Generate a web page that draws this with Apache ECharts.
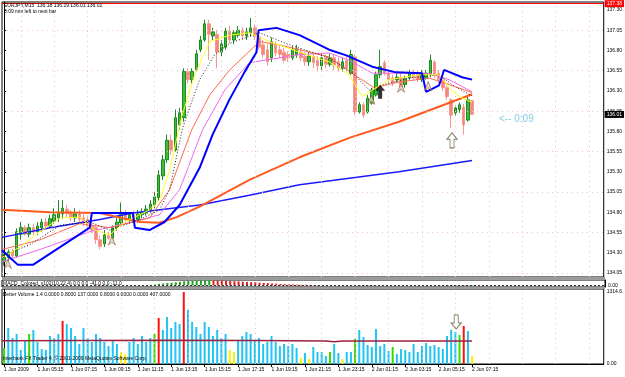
<!DOCTYPE html>
<html lang="en">
<head>
<meta charset="UTF-8">
<title>EURJPY,M15</title>
<style>
  html, body { margin: 0; padding: 0; background: #fff; }
  #chart { width: 625px; height: 377px; }
</style>
</head>
<body>
<div id="chart"></div>
<script src="https://cdn.jsdelivr.net/npm/echarts@6/dist/echarts.min.js"></script>
<script>
// bottom time labels, one every 8 bars (M15)
var timeLabels = ['1 Jun 2009', '1 Jun 05:15', '1 Jun 07:15', '1 Jun 09:15', '1 Jun 11:15', '1 Jun 13:15',
    '1 Jun 15:15', '1 Jun 17:15', '1 Jun 19:15', '1 Jun 21:15', '1 Jun 23:15', '2 Jun 01:15',
    '2 Jun 03:15', '2 Jun 05:15', '2 Jun 07:15'];

// price scale labels and dotted grid levels
var priceTicks = [134.05, 134.30, 134.55, 134.80, 135.05, 135.30, 135.55, 135.80, 136.05, 136.30, 136.55, 136.80, 137.05, 137.30];
var gridPrices = [134.05, 134.55, 135.05, 135.55, 136.05, 136.55, 137.05];
var gridBars = [4, 12, 20, 28, 36, 44, 52, 60, 68, 76, 84, 92, 100, 108, 116, 124, 132, 140];

// candles: [open, close, low, high]
var ohlc = [
    [134.19, 134.24, 134.14, 134.29], [134.24, 134.31, 134.19, 134.34], [134.31, 134.26, 134.22, 134.35],
    [134.26, 134.56, 134.24, 134.60], [134.53, 134.61, 134.46, 134.68], [134.61, 134.53, 134.51, 134.64],
    [134.53, 134.61, 134.49, 134.66], [134.61, 134.56, 134.52, 134.66], [134.56, 134.63, 134.52, 134.68],
    [134.61, 134.68, 134.56, 134.72], [134.68, 134.63, 134.60, 134.73], [134.63, 134.72, 134.61, 134.77],
    [134.69, 134.77, 134.66, 134.85], [134.73, 134.80, 134.68, 134.95], [134.78, 134.85, 134.72, 134.95],
    [134.84, 134.78, 134.73, 134.89], [134.79, 134.73, 134.69, 134.83], [134.73, 134.78, 134.68, 134.85],
    [134.78, 134.71, 134.67, 134.83], [134.73, 134.68, 134.63, 134.78], [134.71, 134.63, 134.58, 134.76],
    [134.63, 134.58, 134.54, 134.68], [134.61, 134.46, 134.41, 134.64], [134.46, 134.38, 134.34, 134.51],
    [134.41, 134.52, 134.37, 134.58], [134.52, 134.48, 134.46, 134.56], [134.48, 134.61, 134.45, 134.64],
    [134.61, 134.68, 134.57, 134.73], [134.67, 134.79, 134.63, 134.92], [134.78, 134.71, 134.66, 134.83],
    [134.71, 134.77, 134.67, 134.80], [134.77, 134.71, 134.67, 134.82], [134.71, 134.78, 134.67, 134.83],
    [134.77, 134.80, 134.73, 134.85], [134.79, 134.84, 134.76, 134.89], [134.83, 134.90, 134.79, 134.95],
    [134.89, 134.99, 134.85, 135.05], [134.98, 135.26, 134.95, 135.32], [135.25, 135.45, 135.20, 135.51],
    [135.45, 135.69, 135.41, 135.76], [135.69, 135.57, 135.51, 135.76], [135.57, 135.97, 135.55, 136.07],
    [135.88, 136.03, 135.82, 136.09], [135.97, 136.54, 135.92, 136.58], [136.54, 136.44, 136.39, 136.58],
    [136.44, 136.54, 136.39, 136.58], [136.56, 136.76, 136.54, 136.81], [136.81, 136.93, 136.78, 136.98],
    [136.93, 137.13, 136.91, 137.18], [137.13, 137.00, 136.68, 137.18], [136.98, 137.03, 136.93, 137.08],
    [137.00, 136.78, 136.58, 137.05], [136.78, 136.88, 136.73, 136.93], [136.84, 137.04, 136.81, 137.08],
    [137.04, 136.93, 136.89, 137.10], [136.93, 137.02, 136.88, 137.05], [136.99, 137.05, 136.96, 137.10],
    [137.05, 136.98, 136.93, 137.09], [136.98, 137.03, 136.93, 137.08], [137.02, 137.08, 136.97, 137.20],
    [137.08, 136.97, 136.93, 137.12], [136.97, 136.84, 136.81, 137.02], [136.87, 136.75, 136.71, 136.93],
    [136.81, 136.66, 136.61, 136.88], [136.71, 136.91, 136.66, 136.96], [136.87, 136.77, 136.73, 136.91],
    [136.81, 136.75, 136.71, 136.86], [136.78, 136.68, 136.65, 136.83], [136.75, 136.71, 136.66, 136.79],
    [136.71, 136.81, 136.68, 136.86], [136.75, 136.82, 136.71, 136.87], [136.78, 136.71, 136.67, 136.83],
    [136.73, 136.66, 136.61, 136.78], [136.66, 136.73, 136.61, 136.78], [136.73, 136.65, 136.58, 136.78],
    [136.68, 136.61, 136.54, 136.73], [136.61, 136.71, 136.56, 136.76], [136.71, 136.63, 136.58, 136.75],
    [136.63, 136.71, 136.60, 136.76], [136.71, 136.62, 136.56, 136.76], [136.66, 136.58, 136.54, 136.71],
    [136.58, 136.66, 136.54, 136.71], [136.68, 136.58, 136.54, 136.73], [136.52, 136.75, 136.50, 136.81],
    [136.72, 136.04, 136.00, 136.75], [136.04, 136.13, 136.02, 136.16], [136.13, 136.00, 135.97, 136.16],
    [136.04, 136.21, 136.02, 136.25], [136.15, 136.31, 136.13, 136.34], [136.25, 136.50, 136.23, 136.54],
    [136.50, 136.60, 136.46, 136.81], [136.65, 136.52, 136.49, 136.68], [136.52, 136.44, 136.40, 136.56],
    [136.46, 136.40, 136.36, 136.50], [136.44, 136.47, 136.40, 136.51], [136.47, 136.35, 136.31, 136.51],
    [136.38, 136.45, 136.34, 136.49], [136.46, 136.52, 136.44, 136.56], [136.52, 136.46, 136.44, 136.56],
    [136.50, 136.44, 136.41, 136.55], [136.44, 136.52, 136.41, 136.56], [136.46, 136.52, 136.44, 136.56],
    [136.50, 136.68, 136.47, 136.75], [136.66, 136.50, 136.46, 136.68], [136.52, 136.44, 136.40, 136.56],
    [136.44, 136.34, 136.30, 136.47], [136.34, 136.23, 136.19, 136.36], [136.19, 136.00, 135.84, 136.21],
    [136.03, 136.09, 136.00, 136.12], [136.07, 136.13, 136.03, 136.16], [136.10, 135.88, 135.76, 136.14],
    [135.94, 136.19, 135.92, 136.23], [136.18, 136.01, 136.01, 136.19]
];

// indicator lines, vertices as [bar, price]
var maSlowBlue = [[-0.5, 134.49], [11, 134.61], [22.9, 134.71], [30.8, 134.79], [46.8, 134.89], [58.7, 135.01],
    [70.7, 135.14], [82.6, 135.22], [94.5, 135.30], [112, 135.44]];
var maSlowOrange = [[-0.5, 134.83], [11, 134.80], [22.9, 134.79], [32.5, 134.68], [37.2, 134.67], [41.3, 134.74],
    [46.8, 134.87], [58.7, 135.20], [70.7, 135.48], [82.6, 135.72], [94.5, 135.92], [112, 136.26]];
var bandBlue = [[-0.5, 134.33], [3.3, 134.15], [6.9, 134.15], [20.5, 134.61], [21.0, 134.79], [30.8, 134.79],
    [31.3, 134.61], [34.8, 134.58], [38.4, 134.68], [42.0, 134.89], [46.8, 135.35], [49.9, 135.76],
    [53.9, 136.19], [57.5, 136.53], [60.4, 136.78], [60.9, 137.05], [65.2, 137.08], [70.7, 136.99],
    [77.8, 136.81], [81.9, 136.74], [88.1, 136.60], [93.8, 136.53], [100.0, 136.52], [101.0, 136.29],
    [104.1, 136.37], [105.3, 136.56], [109.6, 136.47], [112, 136.44]];
var maYellow = [[-0.5, 134.24], [3.8, 134.37], [8.6, 134.56], [13.4, 134.73], [18.1, 134.74], [21.7, 134.58],
    [25.3, 134.52], [28.9, 134.68], [34.8, 134.83], [37.2, 134.95], [39.6, 135.32], [42.5, 135.98],
    [45.6, 136.50], [49.2, 136.91], [54.0, 136.99], [58.7, 137.02], [63.5, 136.91], [70.7, 136.78],
    [77.8, 136.66], [82.6, 136.50], [85.7, 136.23], [88.1, 136.31], [92.2, 136.44], [99.3, 136.50],
    [104.1, 136.50], [106.5, 136.34], [108.9, 136.23], [112, 136.16]];
var maDotted = [[-0.5, 134.26], [6.2, 134.40], [13.4, 134.64], [20.5, 134.68], [25.3, 134.58], [32.5, 134.71],
    [37.2, 134.83], [39.6, 135.08], [42.7, 135.84], [46.8, 136.44], [50.4, 136.75], [54.0, 136.89],
    [61.1, 137.02], [68.3, 136.87], [77.8, 136.71], [83.8, 136.50], [87.4, 136.31], [91.0, 136.38],
    [96.9, 136.46], [104.1, 136.50], [107.7, 136.36], [112, 136.24]];
var maSalmon = [[-0.5, 134.34], [8.6, 134.46], [18.1, 134.66], [25.3, 134.61], [34.8, 134.73], [39.6, 135.08],
    [44.9, 135.82], [49.2, 136.25], [54.0, 136.56], [61.1, 136.91], [65.9, 136.87], [70.7, 136.81],
    [77.8, 136.72], [83.8, 136.50], [88.6, 136.34], [94.5, 136.41], [101.7, 136.46], [106.5, 136.38], [112, 136.28]];
var maViolet = [[-0.5, 134.19], [8.6, 134.34], [20.5, 134.56], [30.8, 134.68], [37.2, 134.77], [42.0, 135.08],
    [47.5, 135.82], [52.8, 136.31], [58.7, 136.65], [65.9, 136.71], [70.7, 136.75], [77.8, 136.77],
    [82.6, 136.68], [88.1, 136.52], [94.5, 136.52], [101.7, 136.52], [106.5, 136.44], [112, 136.29]];

// marker positions [bar, price]
var tentMarks = [[0.9, 134.16], [25.8, 134.45], [87.9, 136.19], [95.0, 136.34], [101.5, 136.36]];
var buyArrow = [[90.0, 136.29]];
var hollowUp = [[107.2, 135.69]];
var hollowDown = [[108.2, 767]];

// MACD histogram (small panel)
var macdHist = [0.2, 0.2, 0.3, 0.4, 0.4, 0.3, 0.3, 0.3, 0.2, 0.2, 0.3, 0.3, 0.4, 0.5, 0.5, 0.4, 0.3, 0.2, 0.2, 0.1,
    0, -0.1, -0.3, -0.4, -0.4, -0.3, -0.2, -0.1, 0, 0.1, 0.1, 0.1, 0.2, 0.2, 0.3,
    0.6, 1.0, 1.6, 2.0, 2.5, 2.8, 3.2, 3.6, 4.2, 4.5, 4.7, 4.9, 5.0, 5.1, 5.2,
    5.1, 5.0, 4.8, 4.6, 4.5, 4.3, 4.1, 3.9, 3.6, 3.4, 3.2, 2.9, 2.6, 2.4, 2.1, 1.9, 1.6, 1.4, 1.1,
    1.0, 0.9, 0.8, 0.7, 0.6, 0.5, 0.5, 0.4, 0.4, 0.3, 0.3, 0.3, 0.2, 0.2, -0.2, -0.4, -0.6, -0.6, -0.5, -0.4,
    -0.2, -0.1, -0.1, 0, 0, 0.1, 0.1, 0.1, 0.1, 0.1, 0.2, 0.2, 0.1, 0, -0.2, -0.4, -0.5, -0.6, -0.6, -0.5,
    -0.4, -0.5, -0.4, -0.4];

// Better Volume
var volumes = [292, 658, 475, 548, 256, 438, 548, 621, 402, 274,
    256, 512, 475, 548, 786, 731, 658, 512, 365, 658,
    475, 402, 548, 475, 402, 329, 438, 365, 219, 183,
    402, 475, 365, 512, 402, 475, 548, 840, 621, 859,
    658, 767, 731, 1314.6, 987, 767, 676, 548, 767, 676,
    512, 621, 475, 548, 256, 219, 438, 512, 585, 548,
    438, 475, 365, 402, 512, 402, 329, 365, 329, 365,
    292, 110, 201, 91, 311, 219, 219, 146, 219, 365,
    201, 91, 219, 219, 457, 621, 493, 347, 311, 639,
    329, 365, 237, 311, 183, 274, 256, 219, 365, 219,
    329, 384, 329, 347, 311, 274, 512, 621, 585, 530,
    694, 603, 146];
var volColors = 'gbbbbbgbbb' + 'bbbbrbbbbb' + 'bbbbbbbbyy' + 'bbbbbbgrbb' + 'bbbrbbbbbb' +
    'bbbbyybbbb' + 'bbbbbbbbbb' + 'bybybbbbgb' + 'bybbgbbbbb' + 'bbbgbbbbbb' + 'bbbbbbbbbg' + 'rby';
var volAvg = [[-0.5, 425], [20, 428], [40, 432], [60, 430], [77, 422], [79, 405], [81, 420], [112, 420]];

var volPalette = { b: '#22c4f2', r: '#ff1010', g: '#33dd00', y: '#f2f200' };
var slots = [];
for (var s = 0; s < 144; s++) slots.push(s);

var font = 'Liberation Sans';
var isLabelBar = function (idx) { return idx % 8 === 0 && idx <= 112; };

var myChart = echarts.init(document.getElementById('chart'), null, { renderer: 'canvas' });

var lineSeries = function (data, color, width, extra) {
    var s = {
        type: 'line', xAxisIndex: 1, yAxisIndex: 0, data: data,
        symbol: 'none', silent: true, z: 4,
        lineStyle: { color: color, width: width }
    };
    return Object.assign(s, extra || {});
};

var gridDots = { color: '#f6bccb', type: [1, 4], width: 1 };

var option = {
    animation: false,
    backgroundColor: '#fff',
    grid: [
        { left: 2, right: 20, top: 2, height: 275, show: true, borderColor: '#000', borderWidth: 1 },
        { left: 2, right: 20, top: 280, height: 7, show: true, borderColor: '#000', borderWidth: 1 },
        { left: 2, right: 20, top: 289, height: 75, show: true, borderColor: '#000', borderWidth: 1 }
    ],
    xAxis: [
        { type: 'category', gridIndex: 0, data: slots, show: false },
        { type: 'value', gridIndex: 0, min: -0.5, max: 143.5, show: false },
        { type: 'category', gridIndex: 1, data: slots, show: false },
        {
            type: 'category', gridIndex: 2, data: slots,
            axisLine: { show: true, lineStyle: { color: '#000', width: 1 } },
            axisTick: { show: true, interval: isLabelBar, alignWithLabel: true, length: 3, lineStyle: { color: '#000' } },
            axisLabel: {
                interval: isLabelBar, align: 'left', margin: 3, fontSize: 5, fontFamily: font, color: '#000',
                formatter: function (v) { return timeLabels[Number(v) / 8]; }
            },
            splitLine: { show: false }
        },
        { type: 'value', gridIndex: 2, min: -0.5, max: 143.5, show: false }
    ],
    yAxis: [
        {
            type: 'value', gridIndex: 0, position: 'right', min: 134.0, max: 137.4,
            axisLine: { show: true, lineStyle: { color: '#000' } },
            axisTick: { show: true, length: 2, customValues: priceTicks, lineStyle: { color: '#000' } },
            axisLabel: {
                customValues: priceTicks, margin: 3, fontSize: 5, fontFamily: font, color: '#000',
                formatter: function (v) { return v.toFixed(2); }
            },
            splitLine: { show: false }
        },
        {
            type: 'value', gridIndex: 1, position: 'right', min: -1.5, max: 5.5,
            axisLine: { show: true, lineStyle: { color: '#000' } },
            axisTick: { show: false },
            axisLabel: { customValues: [0], margin: 3, fontSize: 5, fontFamily: font, color: '#000', formatter: function () { return '0.00'; } },
            splitLine: { show: false }
        },
        {
            type: 'value', gridIndex: 2, position: 'right', min: 0, max: 1370,
            axisLine: { show: true, lineStyle: { color: '#000' } },
            axisTick: { show: true, length: 2, customValues: [0, 1314.6], lineStyle: { color: '#000' } },
            axisLabel: {
                customValues: [0, 1314.6], margin: 3, fontSize: 5, fontFamily: font, color: '#000',
                formatter: function (v) { return v === 0 ? '0.00' : v.toFixed(1); }
            },
            splitLine: { show: false }
        }
    ],
    series: [
        // dotted grid of the price panel
        {
            type: 'line', xAxisIndex: 1, yAxisIndex: 0, data: [[-0.5, 134.0]], symbol: 'none', silent: true, z: 0,
            lineStyle: { opacity: 0 },
            markLine: {
                silent: true, symbol: 'none', animation: false, label: { show: false },
                lineStyle: gridDots,
                data: gridBars.map(function (b) { return { xAxis: b }; })
                    .concat(gridPrices.map(function (p) { return { yAxis: p }; }))
            }
        },
        // dotted grid of the volume panel
        {
            type: 'line', xAxisIndex: 4, yAxisIndex: 2, data: [[-0.5, 0]], symbol: 'none', silent: true, z: 0,
            lineStyle: { opacity: 0 },
            markLine: {
                silent: true, symbol: 'none', animation: false, label: { show: false },
                lineStyle: gridDots,
                data: gridBars.map(function (b) { return { xAxis: b }; })
            }
        },
        {
            type: 'candlestick', xAxisIndex: 0, yAxisIndex: 0, data: ohlc, barWidth: 3, z: 3, silent: true,
            itemStyle: { color: '#3cbc3c', color0: '#f8867a', borderColor: '#1f8a1f', borderColor0: '#f39a90', borderWidth: 1 },
            markLine: {
                silent: true, symbol: 'none', animation: false,
                data: [
                    {
                        yAxis: 137.38, lineStyle: { color: '#ff0000', type: 'solid', width: 1 },
                        label: { show: true, position: 'end', distance: 1, formatter: '137.38', color: '#fff', backgroundColor: '#ff0000', fontSize: 5, fontFamily: font, padding: [1, 2] }
                    },
                    {
                        yAxis: 136.01, lineStyle: { color: 'rgba(0,0,0,0)', width: 1 },
                        label: { show: true, position: 'end', distance: 1, formatter: '136.01', color: '#fff', backgroundColor: '#000', fontSize: 5, fontFamily: font, padding: [1, 2] }
                    }
                ]
            }
        },
        lineSeries(maSlowBlue, '#1a1aff', 1.5),
        lineSeries(maSlowOrange, '#ff5a1e', 2),
        lineSeries(maViolet, '#ee66ee', 1),
        lineSeries(maSalmon, '#ff6a50', 1),
        lineSeries(maDotted, '#222', 1, { lineStyle: { color: '#222', width: 1, type: [1, 2] } }),
        lineSeries(maYellow, '#ffff20', 1),
        lineSeries(bandBlue, '#0000ff', 2, { z: 5 }),
        {
            type: 'scatter', xAxisIndex: 1, yAxisIndex: 0, data: tentMarks, silent: true, z: 6,
            symbol: 'path://M5,0 L10,12 L5,8 L0,12 Z', symbolSize: [7, 9],
            itemStyle: { color: '#e9d6c6', borderColor: '#8b5a3c', borderWidth: 0.8 }
        },
        {
            type: 'scatter', xAxisIndex: 1, yAxisIndex: 0, data: buyArrow, silent: true, z: 6,
            symbol: 'path://M5,0 L10,6 L7,6 L7,14 L3,14 L3,6 L0,6 Z', symbolSize: [10, 14],
            itemStyle: { color: '#000' }
        },
        {
            type: 'scatter', xAxisIndex: 1, yAxisIndex: 0, data: hollowUp, silent: true, z: 6,
            symbol: 'path://M5,0 L10,6 L7,6 L7,14 L3,14 L3,6 L0,6 Z', symbolSize: [10, 15],
            itemStyle: { color: '#fff', borderColor: '#5f5f3a', borderWidth: 1 }
        },
        {
            type: 'bar', xAxisIndex: 2, yAxisIndex: 1, barWidth: 2, silent: true,
            data: macdHist.map(function (v, i) {
                var up = i === 0 || v >= macdHist[i - 1];
                return { value: v, itemStyle: { color: up ? '#22a022' : '#e02020' } };
            }),
            markLine: {
                silent: true, symbol: 'none', animation: false, label: { show: false },
                lineStyle: { color: '#333', type: [2, 2], width: 1 },
                data: [{ yAxis: 0 }]
            }
        },
        {
            type: 'bar', xAxisIndex: 3, yAxisIndex: 2, barWidth: 2, silent: true,
            data: volumes.map(function (v, i) {
                return { value: v, itemStyle: { color: volPalette[volColors[i]] } };
            })
        },
        {
            type: 'line', xAxisIndex: 4, yAxisIndex: 2, data: volAvg, symbol: 'none', silent: true, z: 4,
            lineStyle: { color: '#a02040', width: 1.5 }
        },
        {
            type: 'scatter', xAxisIndex: 4, yAxisIndex: 2, data: hollowDown, silent: true, z: 6,
            symbol: 'path://M3,0 L7,0 L7,8 L10,8 L5,14 L0,8 L3,8 Z', symbolSize: [10, 14],
            itemStyle: { color: '#fff', borderColor: '#5f5f3a', borderWidth: 1 }
        }
    ],
    graphic: [
        { type: 'rect', z: 100, shape: { x: 2, y: 277, width: 603, height: 3 }, style: { fill: '#9c9c9c' } },
        { type: 'rect', z: 100, shape: { x: 2, y: 287, width: 603, height: 2 }, style: { fill: '#9c9c9c' } },
        { type: 'text', z: 100, left: 4, top: 3, style: { text: 'EURJPY,M15  136.18 136.19 136.01 136.01', font: '5px ' + font, fill: '#000' } },
        { type: 'text', z: 100, left: 4, top: 9, style: { text: '0:09 min left to next bar', font: '5px ' + font, fill: '#000' } },
        { type: 'text', z: 100, left: 499, top: 114, style: { text: '<-- 0:09', font: '10px ' + font, fill: '#80cde6' } },
        { type: 'text', z: 100, left: 3, top: 281, style: { text: 'MACD_Colored_v102(10,22,4) 0.0 0.0 -41.0 0.0 -11.0', font: '5px ' + font, fill: '#000' } },
        { type: 'text', z: 100, left: 3, top: 292, style: { text: 'Better Volume 1.4 0.0000 0.8000 137.0000 0.8000 0.0000 0.0000 407.0000', font: '5px ' + font, fill: '#000' } },
        { type: 'text', z: 100, left: 3, top: 356, style: { text: 'Interbank FX Trader 4, \u00a9 2001-2009 MetaQuotes Software Corp.', font: '5px ' + font, fill: '#000' } }
    ]
};

myChart.setOption(option);
</script>
</body>
</html>
